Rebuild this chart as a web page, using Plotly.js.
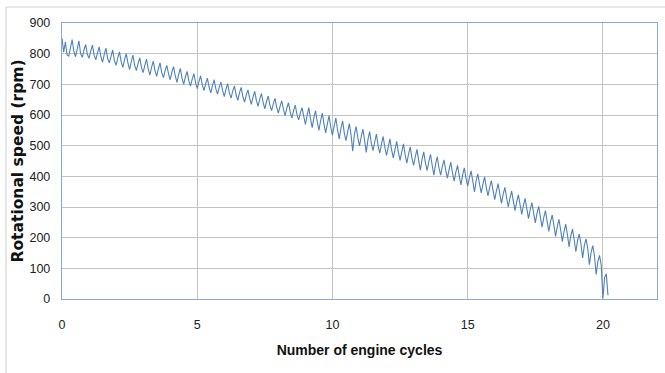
<!DOCTYPE html>
<html>
<head>
<meta charset="utf-8">
<script src="https://cdn.plot.ly/plotly-3.0.1.min.js"></script>
<style>
html,body{margin:0;padding:0;background:#fff;}
#chart{width:665px;height:373px;}
</style>
</head>
<body>
<div id="chart"></div>
<script>
// Rotational speed (rpm), sampled every 1/16 engine cycle starting at cycle 0
const speedRpm = [
850,805,838,796, 792,820,846,808, 790,815,842,800, 788,812,830,798,
785,808,828,795, 780,802,822,790, 772,798,818,785, 770,790,812,778,
762,786,806,774, 755,780,800,770, 748,774,795,762, 745,768,786,755,
738,762,782,750, 730,756,776,745, 726,750,770,738, 722,745,762,735,
715,740,758,728, 706,732,752,720, 700,724,742,712, 694,716,735,706,
686,708,728,698, 680,702,720,692, 672,696,715,686, 668,690,707,680,
660,684,702,672, 655,678,695,666, 648,672,690,660, 642,665,682,655,
635,658,677,648, 628,652,670,640, 620,644,662,632, 614,636,654,626,
606,628,646,618, 598,622,640,610, 590,614,632,602, 584,606,624,596,
569,598,624,588, 559,590,614,578, 550,582,606,570, 542,572,598,560,
534,564,590,552, 522,556,581,542, 516,546,572,535, 482,538,562,526,
499,528,554,518, 478,520,546,508, 484,512,538,500, 476,505,530,494,
468,496,522,486, 460,488,514,478, 452,480,506,470, 443,472,496,460,
436,463,488,452, 420,455,480,444, 419,447,472,436, 404,440,464,428,
404,432,454,420, 394,422,446,412, 384,414,436,402, 372,404,428,394,
368,395,418,385, 349,385,408,375, 346,374,398,364, 336,364,386,354,
324,353,376,343, 312,341,364,331, 300,329,352,319, 288,317,340,307,
276,306,328,294, 262,292,314,281, 248,279,302,268, 234,265,288,254,
220,252,274,240, 204,236,260,225, 187,220,244,210, 170,206,228,194,
154,190,212,180, 134,174,196,166, 112,152,174,142, 80,122,142,110,
2,70,82,12
];
const cycleStart = 0;
const cycleStep = 0.0625;
const xTicks = [0, 5, 10, 15, 20];
const yTicks = [0, 100, 200, 300, 400, 500, 600, 700, 800, 900];

const tickFont = {family: '"Liberation Sans", Arial, sans-serif', size: 12.5, color: '#222'};

Plotly.newPlot('chart', [{
  type: 'scatter',
  mode: 'lines',
  x0: cycleStart,
  dx: cycleStep,
  y: speedRpm,
  line: {color: '#4f81bd', width: 1.1},
  hoverinfo: 'skip'
}], {
  width: 665, height: 373,
  margin: {l: 62, r: 8, t: 23, b: 74},
  paper_bgcolor: '#fff', plot_bgcolor: '#fff',
  showlegend: false,
  xaxis: {
    range: [0, 22], tickvals: xTicks, ticktext: xTicks.map(String),
    showgrid: true, gridcolor: '#c4c4c4', gridwidth: 1,
    zeroline: false, showline: true, linecolor: '#86a9d6', linewidth: 1.2, mirror: true,
    ticks: '', ticklabelstandoff: 14,
    tickfont: tickFont,
    title: {text: 'Number of engine cycles', standoff: 14,
      font: {family: '"Liberation Sans", Arial, sans-serif', size: 14, color: '#111', weight: 'bold'}}
  },
  yaxis: {
    range: [0, 900], tickvals: yTicks, ticktext: yTicks.map(String),
    showgrid: true, gridcolor: '#c4c4c4', gridwidth: 1,
    zeroline: false, showline: true, linecolor: '#86a9d6', linewidth: 1.2, mirror: true,
    ticks: '', ticklabelstandoff: 8,
    tickfont: tickFont,
    title: {text: 'Rotational speed (rpm)', standoff: 2,
      font: {family: '"DejaVu Sans", sans-serif', size: 15.5, color: '#111', weight: 'bold'}}
  },
  shapes: [{
    type: 'rect', xref: 'paper', yref: 'paper',
    x0: -0.0941, x1: 1.03, y0: -0.32, y1: 1.058,
    line: {color: '#d0d0d0', width: 1}, fillcolor: 'rgba(0,0,0,0)', layer: 'below'
  }]
}, {staticPlot: true, displayModeBar: false});
</script>
</body>
</html>
